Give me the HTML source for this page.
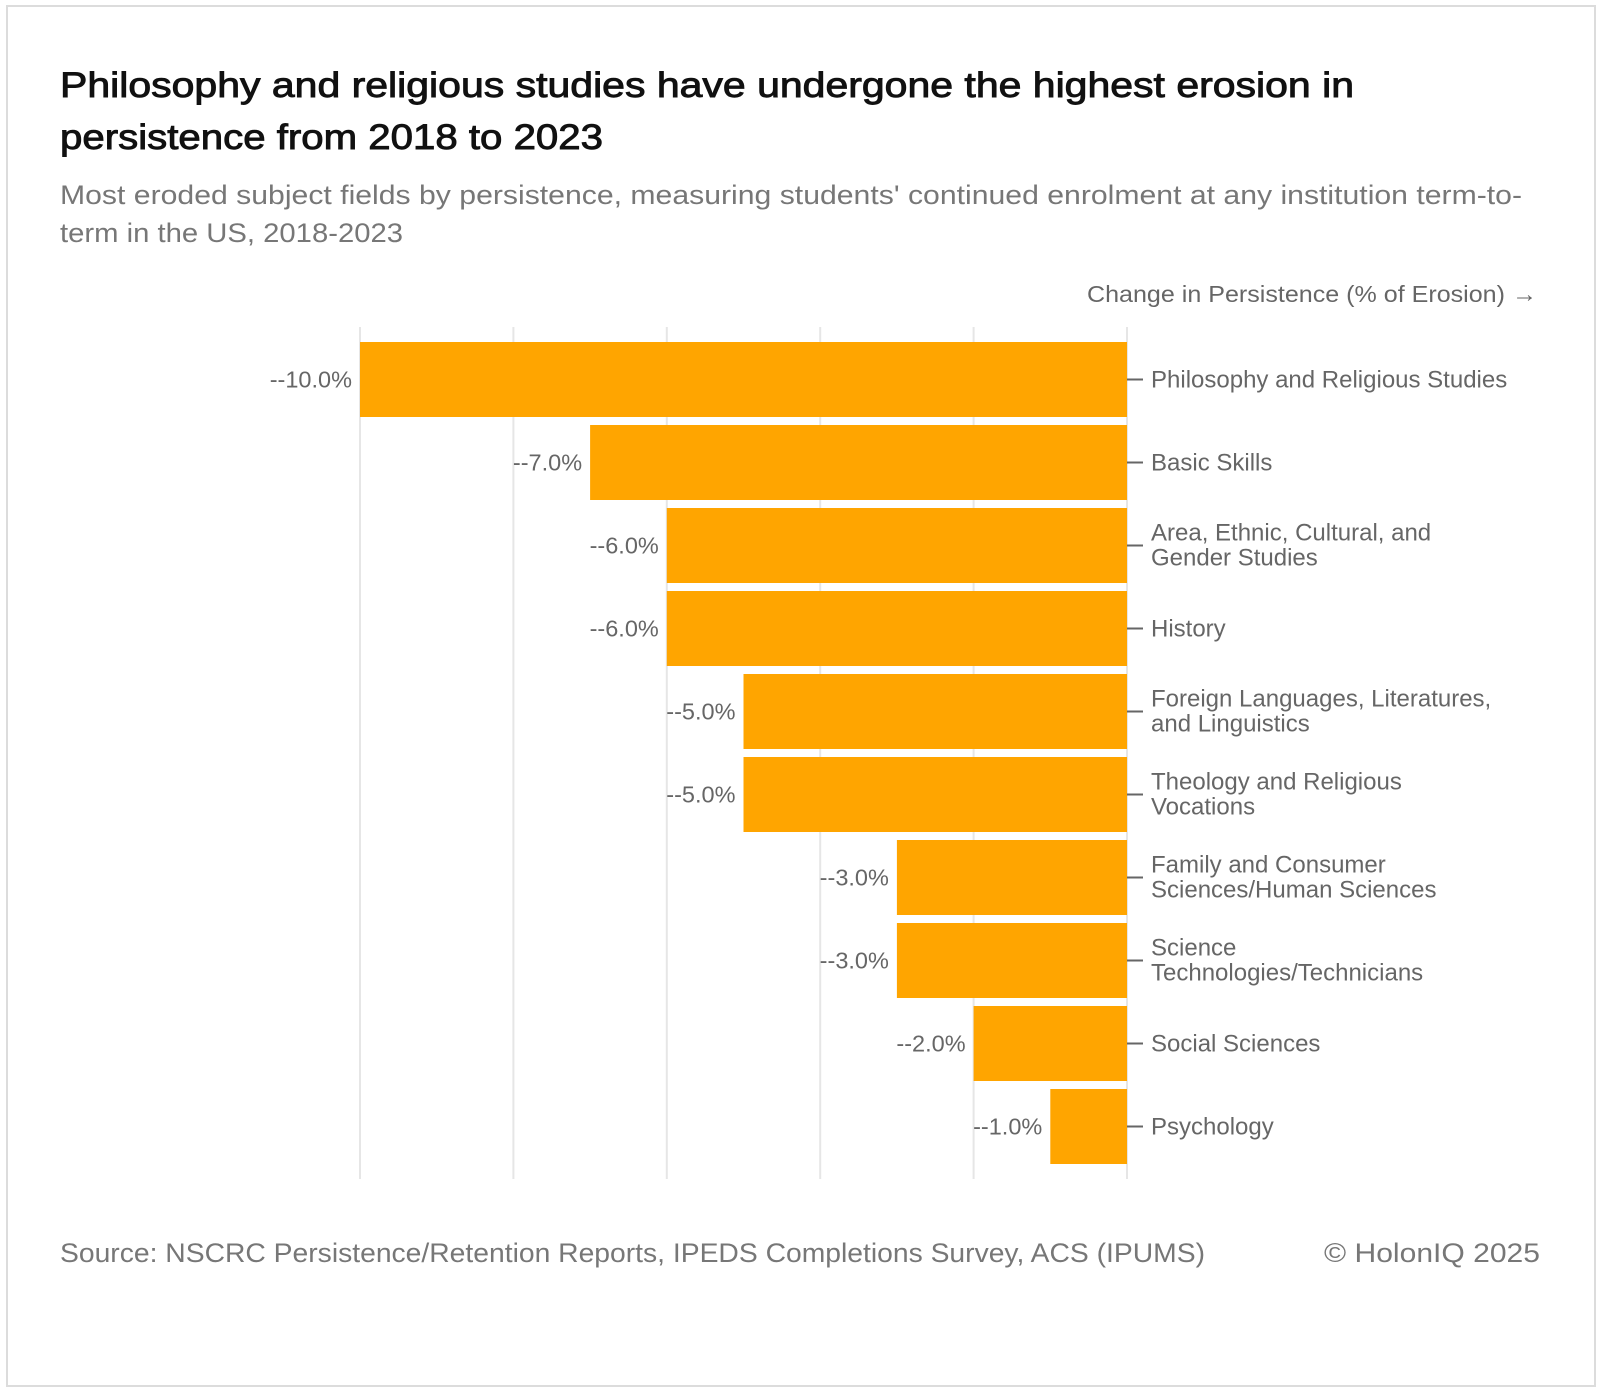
<!DOCTYPE html>
<html><head><meta charset="utf-8"><style>
html,body{margin:0;padding:0;background:#fff;}
svg{display:block;}
</style></head><body>
<svg width="1600" height="1390" viewBox="0 0 1600 1390" xmlns="http://www.w3.org/2000/svg" font-family="'Liberation Sans', sans-serif">
<rect x="7" y="6" width="1588" height="1380" fill="#fff" stroke="#dcdcdc" stroke-width="2"/>
<text x="60" y="97" font-size="35" fill="#111" stroke="#111" stroke-width="0.9" textLength="1294" lengthAdjust="spacingAndGlyphs">Philosophy and religious studies have undergone the highest erosion in</text>
<text x="60" y="149" font-size="35" fill="#111" stroke="#111" stroke-width="0.9" textLength="543" lengthAdjust="spacingAndGlyphs">persistence from 2018 to 2023</text>
<text x="60" y="204" font-size="27" fill="#777" textLength="1462" lengthAdjust="spacingAndGlyphs">Most eroded subject fields by persistence, measuring students' continued enrolment at any institution term-to-</text>
<text x="60" y="242" font-size="27" fill="#777" textLength="343" lengthAdjust="spacingAndGlyphs">term in the US, 2018-2023</text>
<text x="1537" y="302" font-size="23.5" fill="#666" text-anchor="end" textLength="450" lengthAdjust="spacingAndGlyphs">Change in Persistence (% of Erosion) →</text>
<g id="grid"></g>
<g id="bars"></g>
<text x="60" y="1262" font-size="27" fill="#777" textLength="1145" lengthAdjust="spacingAndGlyphs">Source: NSCRC Persistence/Retention Reports, IPEDS Completions Survey, ACS (IPUMS)</text>
<text x="1540" y="1262" font-size="27" fill="#777" text-anchor="end" textLength="216" lengthAdjust="spacingAndGlyphs">© HolonIQ 2025</text>
</svg>
<script>
const categories = [
  ["Philosophy and Religious Studies"],
  ["Basic Skills"],
  ["Area, Ethnic, Cultural, and","Gender Studies"],
  ["History"],
  ["Foreign Languages, Literatures,","and Linguistics"],
  ["Theology and Religious","Vocations"],
  ["Family and Consumer","Sciences/Human Sciences"],
  ["Science","Technologies/Technicians"],
  ["Social Sciences"],
  ["Psychology"]
];
const values = [-10, -7, -6, -6, -5, -5, -3, -3, -2, -1];
const valueLabels = ["--10.0%","--7.0%","--6.0%","--6.0%","--5.0%","--5.0%","--3.0%","--3.0%","--2.0%","--1.0%"];
const gridTicks = [-10, -8, -6, -4, -2, 0];

const NS = "http://www.w3.org/2000/svg";
const x0 = 1127, pxPerUnit = 76.7;
function xScale(v){ return x0 + v * pxPerUnit; }
const bandTop = 338, step = 83, barH = 75, barOff = 4;
function yScale(i){ return bandTop + i * step + barOff; }

const grid = document.getElementById('grid');
gridTicks.forEach(t=>{
  const l = document.createElementNS(NS,'line');
  
  
  l.setAttribute('x1',xScale(t)); l.setAttribute('x2',xScale(t));
  l.setAttribute('y1',327); l.setAttribute('y2',1179);
  l.setAttribute('stroke','#e6e6e6'); l.setAttribute('stroke-width','2');
  grid.appendChild(l);
});

const bars = document.getElementById('bars');
values.forEach((v,i)=>{
  const y = yScale(i);
  const xl = Math.min(xScale(v), xScale(0));
  const r = document.createElementNS(NS,'rect');
  
  
  r.setAttribute('x',xl); r.setAttribute('y',y);
  r.setAttribute('width',Math.abs(xScale(v)-xScale(0))); r.setAttribute('height',barH);
  r.setAttribute('fill','#ffa500');
  bars.appendChild(r);
  const cy = y + barH/2;
  const vt = document.createElementNS(NS,'text');
  
  
  vt.setAttribute('x',xl-8); vt.setAttribute('y',cy+8);
  vt.setAttribute('font-size','23.5'); vt.setAttribute('fill','#666');
  vt.setAttribute('text-anchor','end');
  vt.textContent = valueLabels[i];
  bars.appendChild(vt);
  const tk = document.createElementNS(NS,'line');
  
  
  tk.setAttribute('x1',x0); tk.setAttribute('x2',x0+16);
  tk.setAttribute('y1',cy); tk.setAttribute('y2',cy);
  tk.setAttribute('stroke','#666'); tk.setAttribute('stroke-width','2');
  bars.appendChild(tk);
  const lines = categories[i];
  lines.forEach((ln,j)=>{
    const ct = document.createElementNS(NS,'text');
    
    
    ct.setAttribute('x',1151);
    const base = lines.length===1 ? cy+8 : cy - 5 + j*25;
    ct.setAttribute('y',base);
    ct.setAttribute('font-size','24'); ct.setAttribute('fill','#666');
    ct.textContent = ln;
    bars.appendChild(ct);
  });
});
</script>
</body></html>
